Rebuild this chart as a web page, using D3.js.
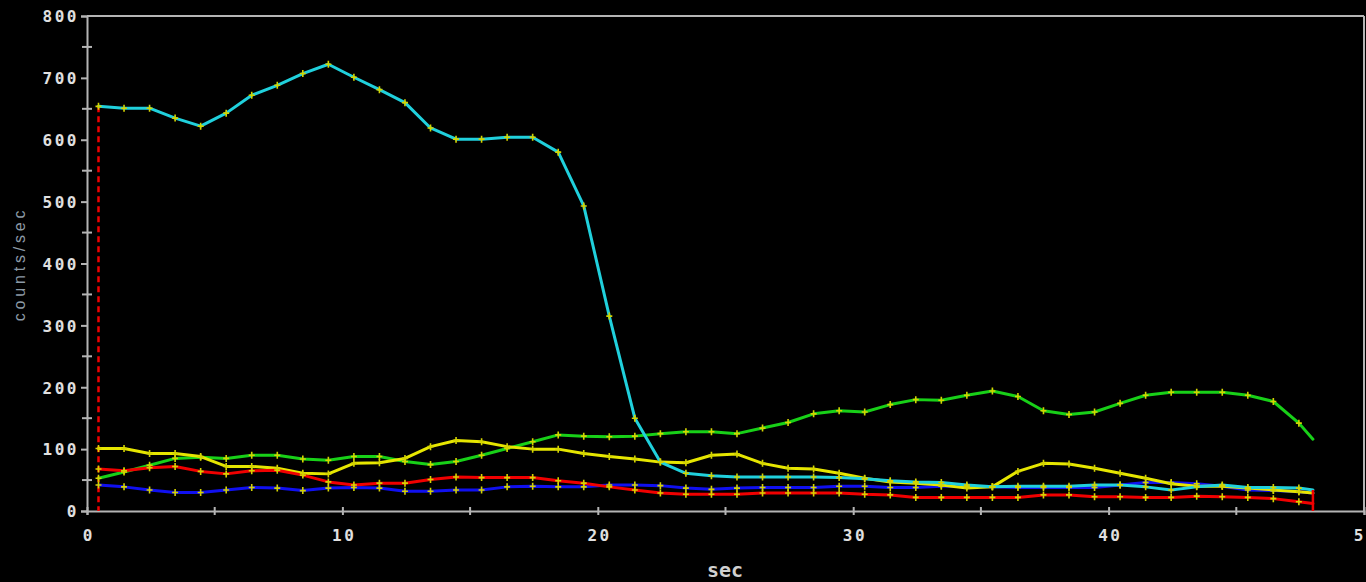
<!DOCTYPE html>
<html>
<head>
<meta charset="utf-8">
<script src="https://cdn.jsdelivr.net/npm/d3@7"></script>
<style>
html,body{margin:0;padding:0;background:#000;overflow:hidden;}
svg{display:block;}
</style>
</head>
<body>
<svg id="chart" width="1366" height="582"></svg>
<script>
// sample times (sec)
const times = [0.45,1.45,2.45,3.45,4.45,5.45,6.45,7.45,8.45,9.45,10.45,11.45,12.45,13.45,14.45,15.45,16.45,17.45,18.45,19.45,20.45,21.45,22.45,23.45,24.45,25.45,26.45,27.45,28.45,29.45,30.45,31.45,32.45,33.45,34.45,35.45,36.45,37.45,38.45,39.45,40.45,41.45,42.45,43.45,44.45,45.45,46.45,47.45,48.0];

const cyanValues = [654,651,651,635,622,643,672,688,707,722,701,681,660,619,601,601,604,604,580,493,315,150,79,61,57,55,55,55,55,54,52,49,47,46,42,39,40,40,40,42,42,39,34,39,42,38,38,37,34];
const greenValues = [53,63,74,85,87,85,90,90,84,82,88,88,80,75,80,90,101,112,123,121,120,121,125,128,128,125,134,143,157,162,160,172,180,179,187,194,185,162,156,160,174,187,192,192,192,187,177,142,116];
const yellowValues = [101,101,93,93,88,72,72,69,61,60,77,78,85,104,114,112,104,100,100,93,88,84,79,78,90,92,77,69,68,61,53,47,45,42,37,39,64,77,76,69,61,53,44,40,40,37,34,31,29];
const redValues = [68,65,70,72,64,60,65,66,58,47,42,45,45,51,55,54,54,54,49,45,39,34,29,27,27,27,29,29,29,29,27,26,22,22,22,22,22,26,26,23,23,22,22,24,23,22,20,15,12];
const blueValues = [42,39,34,30,30,34,38,37,33,37,38,37,32,32,34,34,39,40,39,39,42,42,41,37,35,37,38,38,38,40,40,38,38,40,40,39,38,38,38,38,42,46,46,44,40,34,33,31,29];

const yTicks = [0,100,200,300,400,500,600,700,800];
const yMinor = [50,150,250,350,450,550,650,750];
const xTicks = [0,10,20,30,40,50];
const xMinor = [5,15,25,35,45];

const seriesList = [
  {name:"blue", values: blueValues, color:"#1010f0"},
  {name:"green", values: greenValues, color:"#18d018"},
  {name:"yellow", values: yellowValues, color:"#e6e600"},
  {name:"red", values: redValues, color:"#f00000"},
  {name:"cyan", values: cyanValues, color:"#20d0dc"}
];

const W = 1366, H = 582;
const m = {left:87, right:2, top:16, bottom:71};
const svg = d3.select("#chart");
const x = d3.scaleLinear().domain([0,50]).range([m.left, W - m.right]);
const y = d3.scaleLinear().domain([0,800]).range([H - m.bottom, m.top]);

svg.append("rect").attr("width",W).attr("height",H).attr("fill","#000");

const axisColor = "#b4b4b4";

// frame top and right
svg.append("line").attr("x1",x(0)).attr("x2",x(50)).attr("y1",y(800)).attr("y2",y(800))
  .attr("stroke",axisColor).attr("stroke-width",2);
svg.append("line").attr("x1",x(50)).attr("x2",x(50)).attr("y1",y(800)).attr("y2",y(0))
  .attr("stroke",axisColor).attr("stroke-width",2);

// y axis
const yAxis = d3.axisLeft(y).tickValues(yTicks).tickSize(6).tickPadding(2).tickFormat(d3.format("d"));
const gy = svg.append("g").attr("transform",`translate(${x(0)},0)`).call(yAxis);
gy.select(".domain").attr("stroke",axisColor).attr("stroke-width",2);
gy.selectAll(".tick line").attr("stroke",axisColor).attr("stroke-width",2);
gy.selectAll(".tick text").attr("fill","#e0e0e0")
  .style("font-family","'DejaVu Sans Mono', monospace").style("font-weight","bold")
  .style("font-size","16px").style("letter-spacing","2.5px").attr("dy","0.36em");
// minor y ticks (both sides)
svg.append("g").selectAll("line").data(yMinor).join("line")
  .attr("x1",x(0)-5).attr("x2",x(0)+5).attr("y1",d=>y(d)).attr("y2",d=>y(d))
  .attr("stroke",axisColor).attr("stroke-width",2);

// x axis
const xAxis = d3.axisBottom(x).tickValues(xTicks).tickSize(4).tickPadding(15).tickFormat(d3.format("d"));
const gx = svg.append("g").attr("transform",`translate(0,${y(0)})`).call(xAxis);
gx.select(".domain").attr("stroke",axisColor).attr("stroke-width",2);
gx.selectAll(".tick line").attr("stroke",axisColor).attr("stroke-width",2).attr("y1",-4);
gx.selectAll(".tick text").attr("fill","#e0e0e0")
  .style("font-family","'DejaVu Sans Mono', monospace").style("font-weight","bold")
  .style("font-size","16px").style("letter-spacing","2.5px").attr("dx","1.25px");
svg.append("g").selectAll("line").data(xMinor).join("line")
  .attr("x1",d=>x(d)).attr("x2",d=>x(d)).attr("y1",y(0)-4).attr("y2",y(0)+4)
  .attr("stroke",axisColor).attr("stroke-width",2);

// axis labels
svg.append("text").attr("x",725).attr("y",577).attr("text-anchor","middle")
  .attr("fill","#d0d0d0").style("font-family","'DejaVu Sans Mono', monospace")
  .style("font-weight","bold").style("font-size","20px").text("sec");
svg.append("text").attr("transform","translate(25,264) rotate(-90)").attr("text-anchor","middle")
  .attr("fill","#8c9aa6").style("font-family","'Liberation Sans', Arial, sans-serif")
  .style("font-size","16px").style("letter-spacing","3.8px").text("counts/sec");

// red dashed marker at start
svg.append("line").attr("x1",x(times[0])).attr("x2",x(times[0]))
  .attr("y1",y(cyanValues[0])).attr("y2",y(0))
  .attr("stroke","#f00000").attr("stroke-width",2.5).attr("stroke-dasharray","6,4");

// series lines
const line = d3.line().x((d,i)=>x(times[i])).y(d=>y(d));
seriesList.forEach(s=>{
  svg.append("path").datum(s.values).attr("d",line)
    .attr("fill","none").attr("stroke",s.color).attr("stroke-width",3)
    .attr("stroke-linejoin","round").attr("stroke-linecap","round");
});

// red end marker
const last = times.length-1;
svg.append("line").attr("x1",x(times[last])).attr("x2",x(times[last]))
  .attr("y1",y(cyanValues[last])).attr("y2",y(0))
  .attr("stroke","#f00000").attr("stroke-width",2.5);

// yellow + markers
const mk = svg.append("g");
seriesList.forEach(s=>{
  s.values.slice(0,last).forEach((v,i)=>{
    const cx = x(times[i]), cy = y(v);
    mk.append("path").attr("d",`M${cx-3},${cy}H${cx+3}M${cx},${cy-3.5}V${cy+3.5}`)
      .attr("stroke","#d4d400").attr("stroke-width",1.6).attr("fill","none");
  });
});
</script>
</body>
</html>
